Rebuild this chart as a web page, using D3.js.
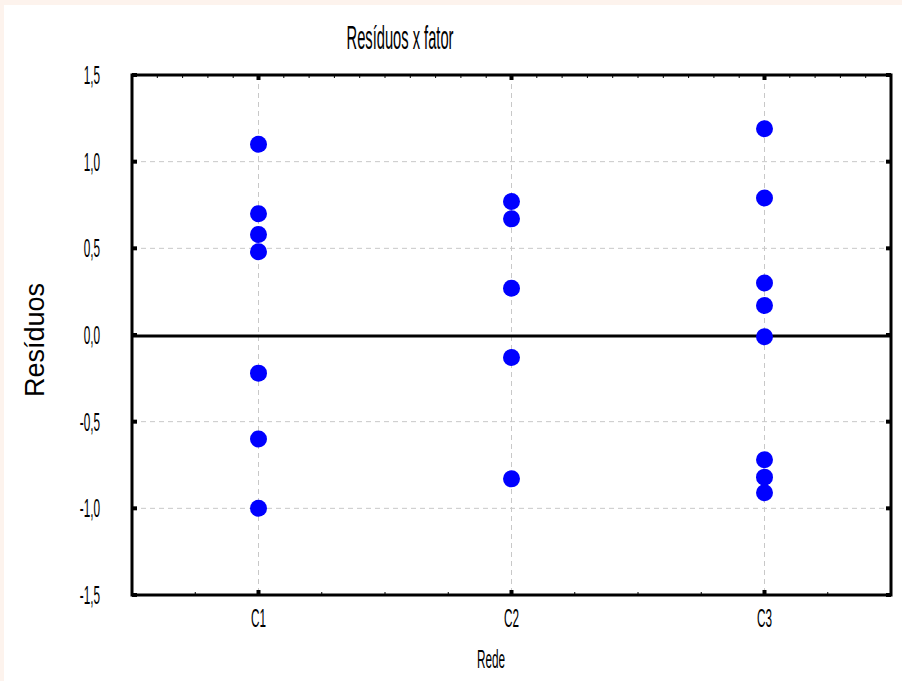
<!DOCTYPE html>
<html>
<head>
<meta charset="utf-8">
<script src="https://cdn.jsdelivr.net/npm/d3@7"></script>
<style>
  html, body { margin: 0; padding: 0; background: #fdf3ed; }
  svg { display: block; }
  text { font-family: "Liberation Sans", Arial, sans-serif; fill: #000; }
</style>
</head>
<body>
<svg id="chart" width="902" height="681"></svg>
<script>
// data
var categories = ["C1", "C2", "C3"];
var residC1 = [1.10, 0.70, 0.58, 0.48, -0.22, -0.60, -1.00];
var residC2 = [0.77, 0.67, 0.27, -0.13, -0.83];
var residC3 = [1.19, 0.79, 0.30, 0.17, -0.01, -0.72, -0.82, -0.91];
var yTicks = [-1.5, -1.0, -0.5, 0.0, 0.5, 1.0, 1.5];
var gridValues = [-1.0, -0.5, 0.5, 1.0];

var svg = d3.select("#chart"),
  margin = {top: 75, right: 11, bottom: 86, left: 132},
  W = 902, H = 681,
  x0 = margin.left, x1 = W - margin.right,
  y0 = margin.top, y1 = H - margin.bottom;

// white page, the pink band only shows top/left
svg.append("rect").attr("x", 4).attr("y", 5).attr("width", W - 4).attr("height", H - 5).attr("fill", "#fff");

var x = d3.scalePoint().domain(categories).range([x0, x1]).padding(0.5);
var y = d3.scaleLinear().domain([-1.5, 1.5]).range([y1, y0]);

var fmt = d3.formatLocale({decimal: ",", thousands: ".", grouping: [3], currency: ["", ""], minus: "-"}).format(".1f");

var sx = 0.84, sy = 1.9;
function label(g, tx, ty, txt, size, anchor) {
  g.append("text")
    .attr("transform", "translate(" + tx + "," + ty + ") scale(" + sx + "," + sy + ")")
    .attr("font-size", size)
    .attr("text-anchor", anchor)
    .text(txt);
}

// grid
var grid = svg.append("g").attr("stroke", "#c8c8c8").attr("stroke-width", 1).attr("stroke-dasharray", "5,4");
grid.selectAll("line.h").data(gridValues).enter().append("line")
  .attr("x1", x0).attr("x2", x1)
  .attr("y1", d => y(d)).attr("y2", d => y(d));
grid.selectAll("line.v").data(categories).enter().append("line")
  .attr("x1", d => x(d)).attr("x2", d => x(d))
  .attr("y1", y0).attr("y2", y1);

// zero line
svg.append("line").attr("x1", x0).attr("x2", x1).attr("y1", y(0) + 1).attr("y2", y(0) + 1)
  .attr("stroke", "#000").attr("stroke-width", 3);

// ticks
var step = x.step();
var ticks = svg.append("g").attr("stroke", "#000").attr("stroke-width", 1);
d3.range(0, 31).forEach(i => {
  var xx = x0 + i * step / 10;
  ticks.append("line").attr("x1", xx).attr("x2", xx).attr("y1", y0).attr("y2", y0 + 3);
});
d3.range(0, 13).forEach(i => {
  var xx = x0 + i * step / 4;
  ticks.append("line").attr("x1", xx).attr("x2", xx).attr("y1", y1).attr("y2", y1 - 3);
});
categories.forEach(c => {
  ticks.append("rect").attr("x", x(c) - 2).attr("y", y0).attr("width", 4).attr("height", 5).attr("stroke", "none");
  ticks.append("rect").attr("x", x(c) - 2).attr("y", y1 - 5).attr("width", 4).attr("height", 5).attr("stroke", "none");
});
yTicks.forEach(v => {
  ticks.append("rect").attr("x", x0).attr("y", y(v) - 2).attr("width", 5).attr("height", 4).attr("stroke", "none");
  ticks.append("rect").attr("x", x1 - 5).attr("y", y(v) - 2).attr("width", 5).attr("height", 4).attr("stroke", "none");
});

// frame
svg.append("rect").attr("x", x0).attr("y", y0).attr("width", x1 - x0).attr("height", y1 - y0)
  .attr("fill", "none").attr("stroke", "#000").attr("stroke-width", 3);

// points
var series = [residC1, residC2, residC3];
var pts = [];
series.forEach((s, i) => s.forEach(v => pts.push({cat: categories[i], v: v})));
svg.append("g").selectAll("circle").data(pts).enter().append("circle")
  .attr("cx", d => x(d.cat))
  .attr("cy", d => y(d.v))
  .attr("r", 8.5)
  .attr("fill", "#0000ff");

// labels
var lab = svg.append("g");
yTicks.forEach(v => label(lab, 100, y(v) + 9, fmt(v), 14, "end"));
categories.forEach(c => label(lab, x(c), 627, c, 14, "middle"));
label(lab, 491, 668, "Rede", 14, "middle");
label(lab, 400, 49, "Resíduos x fator", 17.5, "middle");

svg.append("text")
  .attr("transform", "translate(44,340) rotate(-90)")
  .attr("font-size", 27)
  .attr("text-anchor", "middle")
  .text("Resíduos");
</script>
</body>
</html>
